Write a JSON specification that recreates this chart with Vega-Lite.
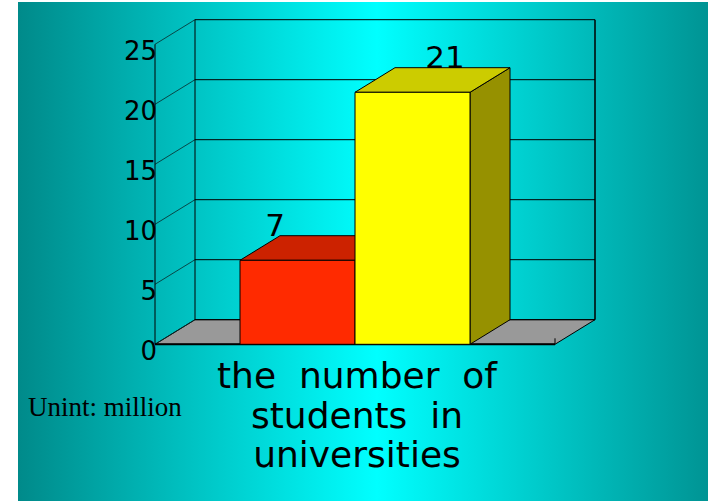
{
  "$schema": "https://vega.github.io/schema/vega-lite/v6.json",
  "width": 690,
  "height": 499,
  "autosize": {"type": "none"},
  "padding": {"left": 18, "top": 2, "right": 0, "bottom": 0},
  "background": "white",
  "config": {
    "view": {
      "stroke": null,
      "fill": {
        "gradient": "linear",
        "x1": 0, "y1": 0, "x2": 1, "y2": 0,
        "stops": [
          {"offset": 0, "color": "#008a8a"},
          {"offset": 0.52, "color": "#00ffff"},
          {"offset": 1, "color": "#009494"}
        ]
      }
    }
  },
  "resolve": {"scale": {"color": "independent"}},
  "datasets": {
    "bars": [{"series": "A", "value": 7}, {"series": "B", "value": 21}],
    "ticks": [{"t": 0}, {"t": 5}, {"t": 10}, {"t": 15}, {"t": 20}, {"t": 25}],
    "depth": [{"d": 0}, {"d": 1}]
  },
  "layer": [
    {
      "data": {"name": "depth"},
      "transform": [
        {"calculate": "datum.d * 2.05", "as": "fy"},
        {"calculate": "datum.d", "as": "fx"},
        {"calculate": "10 + datum.d", "as": "fx2"}
      ],
      "mark": {"type": "area", "orient": "horizontal", "fill": "#999999", "stroke": "black", "strokeWidth": 1},
      "encoding": {
        "y": {"field": "fy", "type": "quantitative", "scale": {"domain": [-13.058, 28.525], "nice": false, "zero": false}, "axis": null},
        "x": {"field": "fx", "type": "quantitative", "scale": {"domain": [-3.425, 13.825], "nice": false, "zero": false}, "axis": null, "stack": null},
        "x2": {"field": "fx2"}
      }
    },
    {
      "data": {"name": "ticks"},
      "transform": [{"calculate": "datum.t + 2.05", "as": "yb"}],
      "mark": {"type": "rule", "color": "black", "strokeWidth": 1},
      "encoding": {
        "x": {"datum": 1, "type": "quantitative", "axis": null},
        "x2": {"datum": 11},
        "y": {"field": "yb", "type": "quantitative", "axis": null}
      }
    },
    {
      "data": {"name": "ticks"},
      "transform": [{"calculate": "datum.t + 2.05", "as": "yb"}],
      "mark": {"type": "rule", "color": "#0a2a2a", "strokeWidth": 0.8},
      "encoding": {
        "x": {"datum": 0, "type": "quantitative", "axis": null},
        "x2": {"datum": 1},
        "y": {"field": "t", "type": "quantitative", "axis": null},
        "y2": {"field": "yb"}
      }
    },
    {
      "data": {"values": [{}]},
      "mark": {"type": "rule", "color": "black", "strokeWidth": 1},
      "encoding": {
        "x": {"datum": 0, "type": "quantitative", "axis": null},
        "y": {"datum": 0, "type": "quantitative", "axis": null},
        "y2": {"datum": 25}
      }
    },
    {
      "data": {"values": [{}]},
      "mark": {"type": "rule", "color": "black", "strokeWidth": 1},
      "encoding": {
        "x": {"datum": 1, "type": "quantitative", "axis": null},
        "y": {"datum": 2.05, "type": "quantitative", "axis": null},
        "y2": {"datum": 27.05}
      }
    },
    {
      "data": {"values": [{}]},
      "mark": {"type": "rule", "color": "black", "strokeWidth": 1.5},
      "encoding": {
        "x": {"datum": 11, "type": "quantitative", "axis": null},
        "y": {"datum": 2.05, "type": "quantitative", "axis": null},
        "y2": {"datum": 27.05}
      }
    },
    {
      "data": {"values": [{}]},
      "mark": {"type": "rule", "color": "black", "strokeWidth": 2},
      "encoding": {
        "x": {"datum": 0, "type": "quantitative", "axis": null},
        "x2": {"datum": 10},
        "y": {"datum": 0, "type": "quantitative", "axis": null}
      }
    },
    {
      "data": {"values": [{}]},
      "mark": {"type": "rule", "color": "black", "strokeWidth": 1},
      "encoding": {
        "x": {"datum": 10, "type": "quantitative", "axis": null},
        "y": {"datum": 0, "type": "quantitative", "axis": null},
        "y2": {"datum": 0.5}
      }
    },
    {
      "data": {"name": "ticks"},
      "mark": {"type": "text", "font": "DejaVu Sans", "fontSize": 26, "align": "right", "baseline": "alphabetic", "dx": 2, "dy": 15.5, "color": "black"},
      "encoding": {
        "x": {"datum": 0, "type": "quantitative", "axis": null},
        "y": {"field": "t", "type": "quantitative", "axis": null},
        "text": {"field": "t", "type": "quantitative"}
      }
    },
    {
      "data": {"name": "bars"},
      "transform": [
        {"window": [{"op": "row_number", "as": "i"}]},
        {"calculate": "2.125 + (datum.i - 1) * 2.875", "as": "x0"},
        {"calculate": "datum.x0 + 2.875", "as": "x1"},
        {"calculate": "[0, 1]", "as": "ds"},
        {"flatten": ["ds"], "as": ["d"]},
        {"calculate": "datum.x1 + datum.d", "as": "sx"},
        {"calculate": "datum.d * 2.05", "as": "sy"},
        {"calculate": "datum.value + datum.d * 2.05", "as": "sy2"}
      ],
      "mark": {"type": "area", "orient": "vertical", "stroke": "black", "strokeWidth": 1},
      "encoding": {
        "x": {"field": "sx", "type": "quantitative", "axis": null},
        "y": {"field": "sy2", "type": "quantitative", "axis": null, "stack": null},
        "y2": {"field": "sy"},
        "detail": {"field": "series"},
        "color": {"field": "series", "type": "nominal", "scale": {"domain": ["A", "B"], "range": ["#992000", "#969100"]}, "legend": null}
      }
    },
    {
      "data": {"name": "bars"},
      "transform": [
        {"window": [{"op": "row_number", "as": "i"}]},
        {"calculate": "2.125 + (datum.i - 1) * 2.875", "as": "x0"},
        {"calculate": "datum.x0 + 2.875", "as": "x1"},
        {"calculate": "[0, 1]", "as": "ds"},
        {"flatten": ["ds"], "as": ["d"]},
        {"calculate": "datum.value + datum.d * 2.05", "as": "ty"},
        {"calculate": "datum.x0 + datum.d", "as": "tx"},
        {"calculate": "datum.x1 + datum.d", "as": "tx2"}
      ],
      "mark": {"type": "area", "orient": "horizontal", "stroke": "black", "strokeWidth": 1},
      "encoding": {
        "y": {"field": "ty", "type": "quantitative", "axis": null},
        "x": {"field": "tx", "type": "quantitative", "axis": null, "stack": null},
        "x2": {"field": "tx2"},
        "detail": {"field": "series"},
        "color": {"field": "series", "type": "nominal", "scale": {"domain": ["A", "B"], "range": ["#cc2200", "#cccc00"]}, "legend": null}
      }
    },
    {
      "data": {"name": "bars"},
      "transform": [
        {"window": [{"op": "row_number", "as": "i"}]},
        {"calculate": "2.125 + (datum.i - 1) * 2.875", "as": "x0"},
        {"calculate": "datum.x0 + 2.875", "as": "x1"}
      ],
      "mark": {"type": "rect", "stroke": "black", "strokeWidth": 1},
      "encoding": {
        "x": {"field": "x0", "type": "quantitative", "axis": null},
        "x2": {"field": "x1"},
        "y": {"field": "value", "type": "quantitative", "axis": null},
        "y2": {"datum": 0},
        "color": {"field": "series", "type": "nominal", "scale": {"domain": ["A", "B"], "range": ["#ff2a00", "#ffff00"]}, "legend": null}
      }
    },
    {
      "data": {"name": "bars"},
      "transform": [
        {"window": [{"op": "row_number", "as": "i"}]},
        {"calculate": "datum.i == 1 ? 3.0 : 7.25", "as": "lx"},
        {"calculate": "datum.value + 2.05", "as": "ly"}
      ],
      "mark": {"type": "text", "font": "DejaVu Sans", "fontSize": 31, "align": "center", "baseline": "alphabetic", "color": "black"},
      "encoding": {
        "x": {"field": "lx", "type": "quantitative", "axis": null},
        "y": {"field": "ly", "type": "quantitative", "axis": null},
        "text": {"field": "value", "type": "quantitative"}
      }
    },
    {
      "data": {"values": [{}]},
      "mark": {
        "type": "text",
        "text": ["the\u00a0\u00a0number\u00a0\u00a0of", "students\u00a0\u00a0in", "universities"],
        "font": "DejaVu Sans", "fontSize": 36, "lineHeight": 39.5,
        "align": "center", "baseline": "alphabetic", "color": "black"
      },
      "encoding": {
        "x": {"datum": 5.05, "type": "quantitative", "axis": null},
        "y": {"datum": -3.667, "type": "quantitative", "axis": null}
      }
    },
    {
      "data": {"values": [{}]},
      "mark": {
        "type": "text",
        "text": "Unint: million",
        "font": "Liberation Serif", "fontSize": 27,
        "align": "left", "baseline": "alphabetic", "color": "black"
      },
      "encoding": {
        "x": {"datum": -3.175, "type": "quantitative", "axis": null},
        "y": {"datum": -5.95, "type": "quantitative", "axis": null}
      }
    }
  ]
}
